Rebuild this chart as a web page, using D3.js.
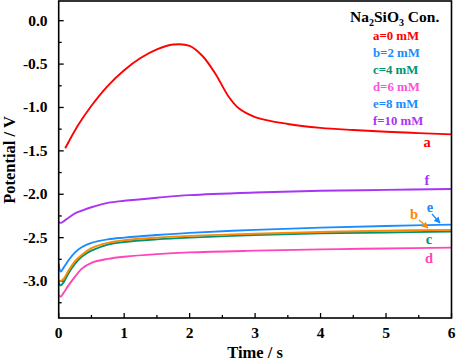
<!DOCTYPE html>
<html><head><meta charset="utf-8">
<script src="https://cdn.jsdelivr.net/npm/d3@7"></script>
<style>body{margin:0;background:#fff}svg{display:block}</style>
</head><body><svg id="c" width="457" height="362"></svg>
<script>
const timesA = [0.1,0.3,0.5,0.75,1.0,1.25,1.5,1.75,2.0,2.2,2.4,2.6,2.75,3.0,3.5,4.0,4.5,5.0,5.5,6.0];
const seriesA = [-1.47,-1.20,-0.98,-0.75,-0.57,-0.43,-0.33,-0.275,-0.29,-0.41,-0.62,-0.88,-1.01,-1.11,-1.19,-1.235,-1.26,-1.28,-1.295,-1.31];
const timesT = [0,0.03,0.08,0.15,0.25,0.35,0.5,0.75,1,1.5,2,3,4,5,6];
const seriesB = [-2.99,-3.00,-2.97,-2.88,-2.77,-2.70,-2.62,-2.56,-2.53,-2.50,-2.48,-2.455,-2.435,-2.42,-2.41];
const seriesC = [-3.02,-3.05,-3.01,-2.91,-2.80,-2.72,-2.65,-2.58,-2.55,-2.52,-2.50,-2.47,-2.45,-2.44,-2.43];
const seriesD = [-3.16,-3.18,-3.13,-3.05,-2.95,-2.86,-2.79,-2.745,-2.72,-2.69,-2.67,-2.65,-2.635,-2.625,-2.615];
const seriesE = [-2.80,-2.89,-2.84,-2.76,-2.67,-2.61,-2.56,-2.52,-2.50,-2.47,-2.445,-2.41,-2.385,-2.365,-2.35];
const seriesF = [-2.32,-2.33,-2.31,-2.27,-2.22,-2.19,-2.15,-2.10,-2.075,-2.04,-2.01,-1.98,-1.96,-1.95,-1.94];
const legendLabels = ["a=0 mM","b=2 mM","c=4 mM","d=6 mM","e=8 mM","f=10 mM"];
const xTicks = [0,1,2,3,4,5,6];
const yTicks = [0.0,-0.5,-1.0,-1.5,-2.0,-2.5,-3.0];

const FONT='Liberation Serif';
const cRed="#ff0000", cBlue="#1a8cff", cGreen="#00936e", cPink="#ff45b8", cPurple="#a835f5", cOrange="#ff8800", cPinkLeg="#ff50dc";
const svg = d3.select("#c").attr("font-family",FONT).attr("font-weight","bold");
const L=58.7, R=451.5, T=1, B=318;
const x = d3.scaleLinear().domain([0,6]).range([L,R]);
const y = d3.scaleLinear().domain([-3.426,0.227]).range([B,T]);

const g = svg.append("g");
const xMinor = d3.range(0,6.01,0.5), yMinor = d3.range(-3.25,0.01,0.25);
g.selectAll(".xm").data(xMinor).enter().append("line")
 .attr("x1",d=>x(d)).attr("x2",d=>x(d)).attr("y1",B).attr("y2",d=>B-(Math.abs(d%1)<1e-6?5:3))
 .attr("stroke","#000").attr("stroke-width",1.3);
g.selectAll(".ym").data(yMinor).enter().append("line")
 .attr("y1",d=>y(d)).attr("y2",d=>y(d)).attr("x1",L).attr("x2",d=>L+(Math.abs((d*2)%1)<1e-6?5:3))
 .attr("stroke","#000").attr("stroke-width",1.3);

svg.selectAll(".xl").data(xTicks).enter().append("text")
 .attr("x",d=>x(d)).attr("y",338).attr("text-anchor","middle").attr("font-size",15.5).text(d=>d);
svg.selectAll(".yl").data(yTicks).enter().append("text")
 .attr("x",47.5).attr("y",d=>y(d)+5).attr("text-anchor","end").attr("font-size",15.5).text(d=>d.toFixed(1));

svg.append("text").attr("x",(L+R)/2).attr("y",358).attr("text-anchor","middle").attr("font-size",16.5).text("Time / s");
svg.append("text").attr("transform","translate(15,160) rotate(-90)").attr("text-anchor","middle").attr("font-size",16.5).text("Potential / V");

const line = d3.line().x(d=>x(d[0])).y(d=>y(d[1])).curve(d3.curveCatmullRom.alpha(0.5));
const series = [
 [timesA,seriesA,cRed],[timesT,seriesD,cPink],[timesT,seriesF,cPurple],
 [timesT,seriesC,cGreen],[timesT,seriesB,cOrange],[timesT,seriesE,cBlue]
];
svg.append("clipPath").attr("id","cp").append("rect").attr("x",L).attr("y",T).attr("width",R-L).attr("height",B-T);
const lg = svg.append("g").attr("clip-path","url(#cp)");
series.forEach(([ts,vs,c])=>{
 lg.append("path").datum(ts.map((t,i)=>[t,vs[i]])).attr("d",line).attr("fill","none").attr("stroke",c).attr("stroke-width",1.9);
});

svg.append("rect").attr("x",L).attr("y",T).attr("width",R-L).attr("height",B-T).attr("fill","none").attr("stroke","#000").attr("stroke-width",1.6);

const tt = svg.append("text").attr("x",350).attr("y",22).attr("font-size",15.5);
tt.append("tspan").text("Na");
tt.append("tspan").attr("font-size",10).attr("dy",4).text("2");
tt.append("tspan").attr("dy",-4).text("SiO");
tt.append("tspan").attr("font-size",10).attr("dy",4).text("3");
tt.append("tspan").attr("dy",-4).text(" Con.");
const legCols=[cRed,cBlue,cGreen,cPinkLeg,cBlue,cPurple];
svg.selectAll(".lg").data(legendLabels).enter().append("text")
 .attr("x",373).attr("y",(d,i)=>39.5+i*17.1).attr("font-size",12.8).attr("fill",(d,i)=>legCols[i]).text(d=>d);

const labs=[["a",427,147,cRed],["f",427,185,cPurple],["e",430,212,cBlue],["b",414,219,cOrange],["c",429,244,cGreen],["d",429,263,cPink]];
svg.selectAll(".cl").data(labs).enter().append("text").attr("x",d=>d[1]).attr("y",d=>d[2])
 .attr("text-anchor","middle").attr("font-size",14.5).attr("fill",d=>d[3]).text(d=>d[0]);
const defs=svg.append("defs");
[["ae",cBlue],["ab",cOrange]].forEach(([id,c])=>{
 defs.append("marker").attr("id",id).attr("viewBox","0 0 10 10").attr("refX",9).attr("refY",5).attr("markerWidth",5).attr("markerHeight",5).attr("orient","auto")
 .append("path").attr("d","M0,0L10,5L0,10z").attr("fill",c);
});
svg.append("line").attr("x1",432).attr("y1",214).attr("x2",440).attr("y2",223).attr("stroke",cBlue).attr("stroke-width",1.3).attr("marker-end","url(#ae)");
svg.append("line").attr("x1",419).attr("y1",220).attr("x2",428).attr("y2",228).attr("stroke",cOrange).attr("stroke-width",1.3).attr("marker-end","url(#ab)");
</script></body></html>
